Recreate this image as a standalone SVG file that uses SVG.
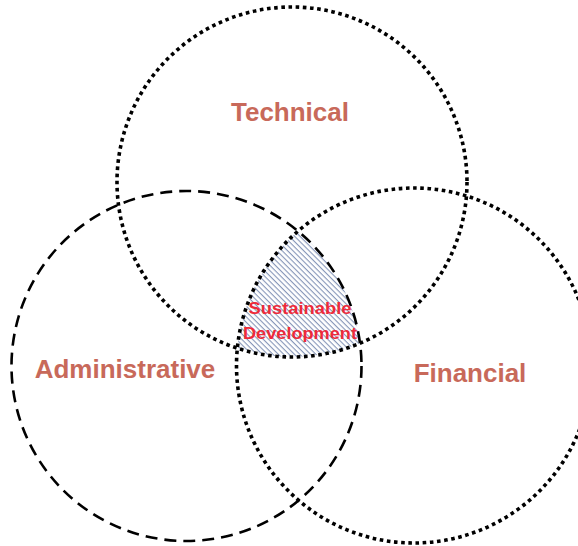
<svg xmlns="http://www.w3.org/2000/svg" width="578" height="546" viewBox="0 0 578 546">
  <style>
    .ring { fill: none; stroke: #000; }
    .dotted { stroke-width: 3.6; stroke-dasharray: 3.6 3.6; }
    .dashed { stroke-width: 2.6; stroke-dasharray: 12 7; }
    .label { font-family: "Liberation Sans", Arial, sans-serif; font-weight: bold; font-size: 26px; fill: #c8695a; text-anchor: middle; }
    .core { font-family: "Liberation Sans", Arial, sans-serif; font-weight: bold; font-size: 17px; fill: #ee2a3a; text-anchor: middle; }
  </style>
  <defs>
    <pattern id="hatch" patternUnits="userSpaceOnUse" width="3.8" height="3.8" patternTransform="rotate(45)">
      <rect x="0" y="0" width="3.8" height="3.8" fill="#ffffff"/>
      <rect x="0" y="0" width="3.8" height="1.1" fill="#8595b8"/>
    </pattern>
    <clipPath id="clipTech"><circle cx="292" cy="182" r="175"/></clipPath>
    <clipPath id="clipAdmin"><circle cx="186.5" cy="366" r="175"/></clipPath>
    <clipPath id="clipFin"><circle cx="414" cy="365.5" r="177.5"/></clipPath>
  </defs>
  <rect width="578" height="546" fill="#ffffff"/>
  <g id="intersection">
    <g clip-path="url(#clipTech)">
      <g clip-path="url(#clipAdmin)">
        <rect x="0" y="0" width="578" height="546" fill="url(#hatch)" clip-path="url(#clipFin)"/>
      </g>
    </g>
  </g>
  <g id="technical">
    <circle class="ring dotted" cx="292" cy="182" r="175"/>
    <text class="label" x="290" y="121">Technical</text>
  </g>
  <g id="administrative">
    <circle class="ring dashed" cx="186.5" cy="366" r="175"/>
    <text class="label" x="125" y="378">Administrative</text>
  </g>
  <g id="financial">
    <circle class="ring dotted" cx="414" cy="365.5" r="177.5"/>
    <text class="label" x="470" y="382">Financial</text>
  </g>
  <g id="sustainable-development">
    <text class="core" x="300" y="314" textLength="103" lengthAdjust="spacingAndGlyphs">Sustainable</text>
    <text class="core" x="300" y="339" textLength="114" lengthAdjust="spacingAndGlyphs">Development</text>
  </g>
</svg>
